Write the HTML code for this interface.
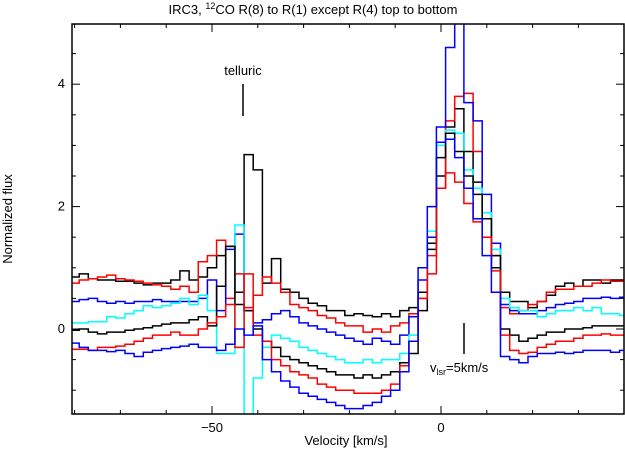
<!DOCTYPE html>
<html><head><meta charset="utf-8"><style>
body{margin:0;background:#fff}
svg text{font-family:"Liberation Sans",sans-serif;font-size:13px;fill:#000}
</style></head><body>
<svg id="chart" width="625" height="450" viewBox="0 0 625 450" xmlns="http://www.w3.org/2000/svg">
<defs><clipPath id="pc"><rect x="72" y="24" width="552" height="390"/></clipPath></defs>
<text x="313" y="14" text-anchor="middle">IRC3, <tspan font-size="9" dy="-5">12</tspan><tspan dy="5">CO R(8) to R(1) except R(4) top to bottom</tspan></text>
<g id="series" clip-path="url(#pc)"></g>
<rect x="72" y="24" width="552" height="390" fill="none" stroke="#000" stroke-width="1.5"/>
<g id="ticks"></g>
<text transform="translate(12,219) rotate(-90)" text-anchor="middle">Normalized flux</text>
<text x="346" y="445" text-anchor="middle">Velocity [km/s]</text>
<text x="243" y="75" text-anchor="middle">telluric</text>
<line x1="243" y1="84" x2="243" y2="116" stroke="#000" stroke-width="1.5"/>
<line x1="464" y1="323" x2="464" y2="354" stroke="#000" stroke-width="1.5"/>
<text x="430" y="372">v<tspan font-size="9" dy="3">lsr</tspan><tspan dy="-3">=5km/s</tspan></text>
</svg>
<script>
const binStart = -80, binStep = 2;
const colors = ["#000000","#ff0000","#0000ff","#00ffff","#000000","#ff0000","#0000ff"];
const seriesNames = ["r8","r7","r6","r5","r3","r2","r1"];
const r8 = [0.85,0.9,0.82,0.8,0.8,0.78,0.78,0.75,0.72,0.75,0.75,0.8,0.95,0.8,0.85,1.0,1.2,1.35,0.6,2.85,2.6,0.75,1.15,0.65,0.6,0.5,0.42,0.38,0.3,0.3,0.22,0.25,0.22,0.2,0.25,0.2,0.3,0.35,0.6,1.3,2.5,3.3,3.6,2.9,2.4,1.8,1.0,0.6,0.45,0.45,0.35,0.45,0.55,0.7,0.75,0.7,0.8,0.8,0.75,0.8,0.8];
const r7 = [0.75,0.8,0.82,0.85,0.88,0.82,0.8,0.78,0.75,0.72,0.7,0.65,0.7,0.6,1.1,1.2,1.45,0.5,0.9,0.35,0.55,0.85,0.75,0.6,0.4,0.35,0.3,0.22,0.18,0.1,0.05,0.05,-0.05,0.0,-0.05,0.05,0.1,0.25,0.5,0.9,2.3,3.4,3.8,3.85,2.9,1.9,1.2,0.35,0.25,0.3,0.4,0.45,0.6,0.65,0.65,0.7,0.7,0.75,0.8,0.78,0.78];
const r6 = [0.45,0.48,0.5,0.45,0.42,0.45,0.42,0.45,0.45,0.48,0.45,0.45,0.45,0.45,0.5,0.8,0.3,1.3,1.55,0.3,0.1,0.15,0.25,0.3,0.2,0.1,0.05,0.0,-0.05,-0.1,-0.15,-0.2,-0.25,-0.15,-0.2,-0.25,-0.1,0.2,0.8,1.5,3.3,4.6,5.2,3.7,3.4,2.2,1.4,0.4,0.3,0.25,0.25,0.3,0.35,0.4,0.42,0.45,0.5,0.5,0.52,0.5,0.52];
const r5 = [0.1,0.1,0.12,0.12,0.2,0.18,0.25,0.3,0.38,0.35,0.38,0.42,0.5,0.4,0.55,0.3,-0.4,-0.4,1.7,-1.5,-0.8,-0.3,-0.1,-0.15,-0.2,-0.3,-0.35,-0.4,-0.45,-0.5,-0.55,-0.55,-0.5,-0.55,-0.5,-0.5,-0.4,-0.1,0.5,1.6,3.0,3.25,3.2,2.6,2.3,1.9,1.3,0.5,0.35,0.3,0.3,0.2,0.25,0.3,0.3,0.35,0.3,0.35,0.25,0.25,0.22];
const r3 = [-0.02,0.0,-0.05,-0.08,-0.05,-0.05,-0.02,0.0,0.02,0.05,0.08,0.1,0.1,0.15,0.2,0.05,0.7,1.35,0.4,0.3,0.0,-0.2,-0.3,-0.45,-0.5,-0.55,-0.6,-0.65,-0.7,-0.75,-0.75,-0.8,-0.75,-0.8,-0.75,-0.7,-0.55,-0.4,0.3,1.4,2.8,3.2,2.9,2.5,2.2,1.8,1.2,0.0,-0.1,-0.2,-0.15,-0.1,-0.05,-0.05,0.0,0.0,0.02,0.05,0.05,0.05,0.05];
const r2 = [-0.33,-0.33,-0.35,-0.3,-0.3,-0.28,-0.25,-0.2,-0.15,-0.1,-0.1,-0.05,-0.1,-0.1,0.0,0.1,0.2,0.4,-0.3,0.9,-0.1,-0.2,-0.5,-0.6,-0.7,-0.75,-0.8,-0.9,-0.95,-1.0,-1.0,-1.05,-1.05,-1.05,-1.0,-0.9,-0.6,-0.2,0.5,1.2,2.3,2.55,2.4,2.05,1.75,1.5,0.95,-0.1,-0.35,-0.4,-0.38,-0.3,-0.25,-0.2,-0.2,-0.15,-0.1,-0.1,-0.08,-0.1,-0.1];
const r1 = [-0.23,-0.3,-0.35,-0.35,-0.37,-0.35,-0.4,-0.45,-0.38,-0.35,-0.32,-0.3,-0.28,-0.25,-0.3,-0.3,-0.35,-0.25,0.0,-0.1,0.05,-0.5,-0.7,-0.85,-0.95,-1.05,-1.1,-1.15,-1.2,-1.25,-1.3,-1.3,-1.25,-1.2,-1.1,-1.0,-0.7,-0.2,1.0,2.0,3.05,3.1,2.8,2.3,1.8,1.2,0.6,-0.45,-0.5,-0.55,-0.45,-0.4,-0.4,-0.38,-0.4,-0.38,-0.35,-0.35,-0.35,-0.38,-0.35];
const xMajorTicks = [-50, 0];
const xTickLabels = ["\u221250", "0"];
const yMajorTicks = [0, 2, 4];
const yTickLabels = ["0", "2", "4"];

const NS = "http://www.w3.org/2000/svg";
function xs(v){ return 441 + (v) * 4.58; }
function ys(f){ return 329 - f * 61.2; }

const allSeries = [r8, r7, r6, r5, r3, r2, r1];
const g = document.getElementById("series");
allSeries.forEach(function(data, k){
  let d = "";
  data.forEach(function(val, i){
    const c = binStart + binStep * i;
    const x0 = xs(c - binStep/2), x1 = xs(c + binStep/2), y = ys(val);
    d += (i === 0 ? "M" : "L") + x0.toFixed(1) + "," + y.toFixed(1) + "L" + x1.toFixed(1) + "," + y.toFixed(1);
  });
  const p = document.createElementNS(NS, "path");
  p.setAttribute("d", d);
  p.setAttribute("fill", "none");
  p.setAttribute("stroke", colors[k]);
  p.setAttribute("stroke-width", "1.5");
  
  
  g.appendChild(p);
});

const t = document.getElementById("ticks");
function line(x1,y1,x2,y2,name){
  const l = document.createElementNS(NS, "line");
  l.setAttribute("x1",x1); l.setAttribute("y1",y1); l.setAttribute("x2",x2); l.setAttribute("y2",y2);
  l.setAttribute("stroke","#000"); l.setAttribute("stroke-width","1");
  
  
  t.appendChild(l);
}
for (let v = -80; v <= 40; v += 10) {
  const x = xs(v);
  if (x < 73 || x > 623) continue;
  const len = (v % 50 === 0) ? 8 : 4;
  line(x,414,x,414-len,'x-tick');
  line(x,24,x,24+len,'x-tick-top');
}
for (let f = -1; f <= 5; f += 0.5) {
  const y = ys(f);
  if (y < 25 || y > 413) continue;
  const len = (f % 2 === 0) ? 8 : 4;
  line(72,y,72+len,y,'y-tick');
  line(624,y,624-len,y,'y-tick-right');
}
xMajorTicks.forEach(function(v,i){
  const tx = document.createElementNS(NS,"text");
  tx.setAttribute("x", xs(v)); tx.setAttribute("y", 432); tx.setAttribute("text-anchor","middle");
  tx.textContent = xTickLabels[i];
  
  
  t.appendChild(tx);
});
yMajorTicks.forEach(function(f,i){
  const tx = document.createElementNS(NS,"text");
  tx.setAttribute("x", 65); tx.setAttribute("y", ys(f) + 4); tx.setAttribute("text-anchor","end");
  tx.textContent = yTickLabels[i];
  
  
  t.appendChild(tx);
});
</script>
</body></html>
